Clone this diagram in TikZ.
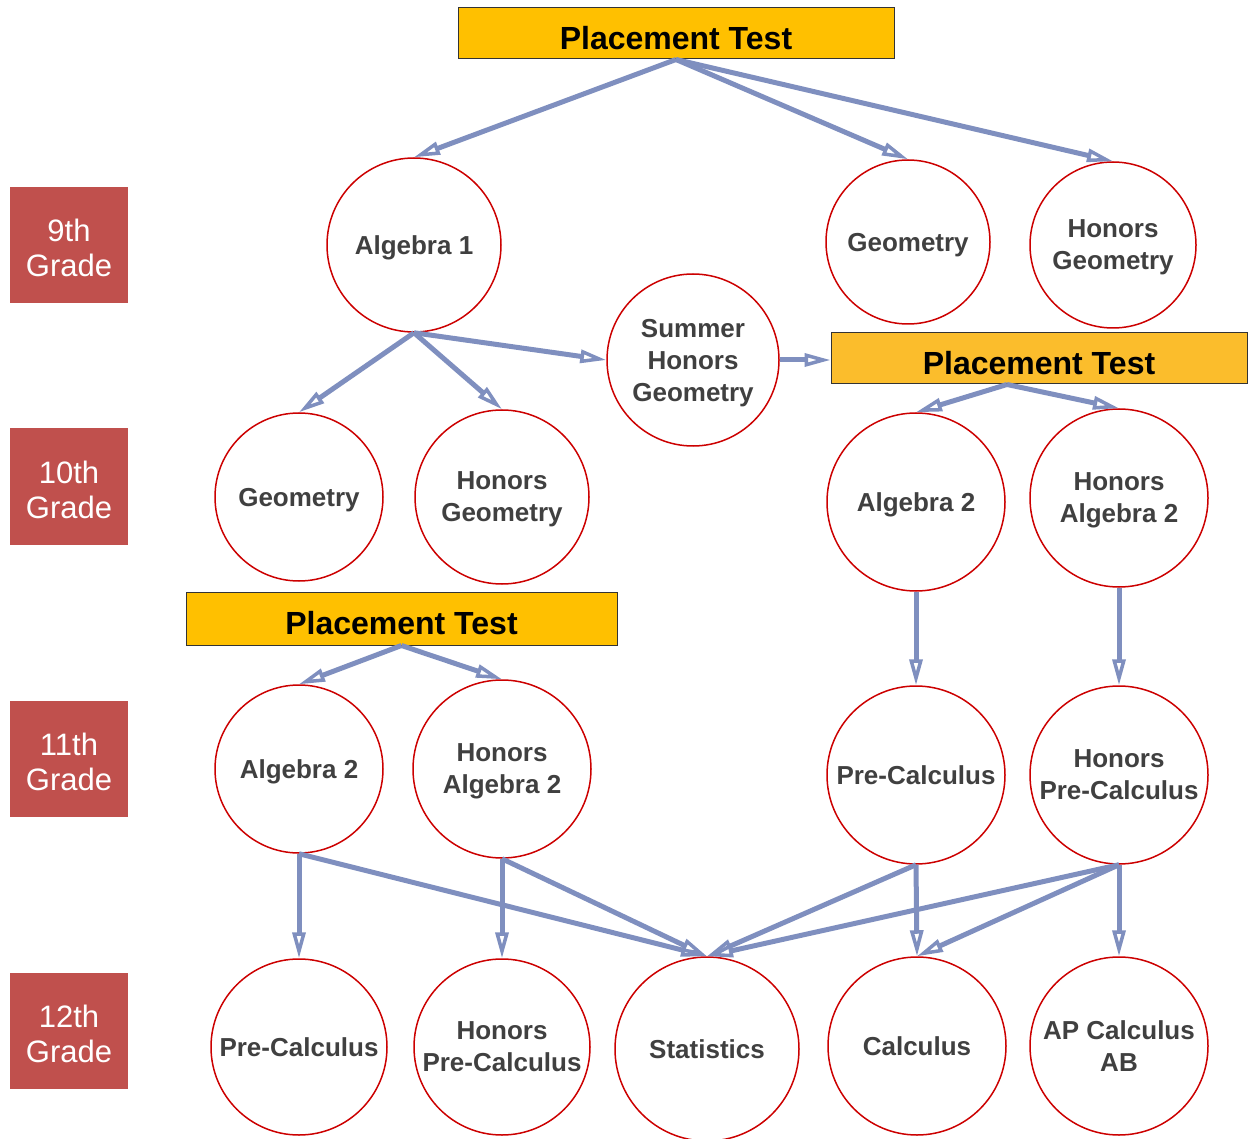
\documentclass[tikz,border=0pt]{standalone}
\usepackage{fontspec}
\setmainfont{Liberation Sans}
\usetikzlibrary{arrows.meta}
\definecolor{testgold}{HTML}{FFC000}
\definecolor{testgoldlight}{HTML}{FBBD2C}
\definecolor{gradered}{HTML}{C0504D}
\definecolor{linkblue}{HTML}{7F8FBF}
\definecolor{ringred}{HTML}{CC0000}
\definecolor{coursegrey}{HTML}{404040}
\begin{document}
\begin{tikzpicture}[x=1pt, y=-1pt,
  course/.style={circle, draw=ringred, line width=1.5pt, fill=white, inner sep=0pt,
    minimum size=#1, align=center, text=coursegrey, text depth=0pt,
    font=\fontsize{26}{32}\selectfont\bfseries},
  course/.default=176,
  test/.style={draw=black!80, line width=1pt, fill=testgold, inner sep=0pt,
    minimum height=51, text height=32pt, text depth=0pt,
    font=\fontsize{32}{36}\selectfont\bfseries},
  grade/.style={fill=gradered, inner sep=0pt, minimum width=118, minimum height=116,
    align=center, text=white, text height=63.5pt,
    font=\fontsize{31}{35}\selectfont},
  link/.style={draw=linkblue, line width=5pt,
    -{Triangle[open, fill=white, length=26pt, width=13pt, line width=3.5pt]}}]
  \useasboundingbox (0,0) rectangle (1248,1139);

  % grade labels
  \node[grade] (g9)  at (69,245)    {9th\\Grade};
  \node[grade] (g10) at (69,486.5)  {10th\\Grade};
  \node[grade] (g11) at (69,758.5)  {11th\\Grade};
  \node[grade] (g12) at (69,1030.5) {12th\\Grade};

  % placement tests
  \node[test, minimum width=436] (pt1) at (676,33.5) {Placement Test};
  \node[test, minimum width=416, fill=testgoldlight] (pt2) at (1039,358.5) {Placement Test};
  \node[test, minimum width=431, minimum height=53] (pt3) at (401.5,618.5) {Placement Test};
  \coordinate (pt2out) at (1007,384.5);

  % 9th grade
  \node[course=174] (alg1)  at (414,245) {Algebra 1};
  \node[course=164] (geo9)  at (908,242) {Geometry};
  \node[course=166] (hgeo9) at (1113,245) {Honors\\Geometry};
  \node[course=172] (shg)   at (693,360) {Summer\\Honors\\Geometry};

  % 10th grade
  \node[course=168] (geo10)  at (299,497)  {Geometry};
  \node[course=174] (hgeo10) at (502,497)  {Honors\\Geometry};
  \node[course=178] (alg2a)  at (916,502)  {Algebra 2};
  \node[course=178] (halg2a) at (1119,498) {Honors\\Algebra 2};

  % 11th grade
  \node[course=168] (alg2b)  at (299,769)  {Algebra 2};
  \node[course=178] (halg2b) at (502,769)  {Honors\\Algebra 2};
  \node[course=178] (preca)  at (916,775)  {Pre-Calculus};
  \node[course=178] (hpreca) at (1119,775) {Honors\\Pre-Calculus};

  % 12th grade
  \node[course=176] (precb)  at (299,1047)  {Pre-Calculus};
  \node[course=176] (hprecb) at (502,1047)  {Honors\\Pre-Calculus};
  \node[course=184] (stat)   at (707,1049)  {Statistics};
  \node[course=178] (calc)   at (917,1046)  {Calculus};
  \node[course=178] (apcalc) at (1119,1046) {AP Calculus\\AB};

  % links
  \draw[link] (pt1.south) -- (alg1.north);
  \draw[link] (pt1.south) -- (geo9.north);
  \draw[link] (pt1.south) -- (hgeo9.north);
  \draw[link] (alg1.south) -- (geo10.north);
  \draw[link] (alg1.south) -- (hgeo10.north);
  \draw[link] (alg1.south) -- (shg.west);
  \draw[link] (shg.east) -- (pt2.west |- shg.east);
  \draw[link] (pt2out) -- (alg2a.north);
  \draw[link] (pt2out) -- (halg2a.north);
  \draw[link] (alg2a.south) -- (preca.north);
  \draw[link] (halg2a.south) -- (hpreca.north);
  \draw[link] (pt3.south) -- (alg2b.north);
  \draw[link] (pt3.south) -- (halg2b.north);
  \draw[link] (alg2b.south) -- (precb.north);
  \draw[link] (alg2b.south) -- (stat.north);
  \draw[link] (halg2b.south) -- (hprecb.north);
  \draw[link] (halg2b.south) -- (stat.north);
  \draw[link] (preca.south) -- (stat.north);
  \draw[link] (preca.south) -- (calc.north);
  \draw[link] (hpreca.south) -- (stat.north);
  \draw[link] (hpreca.south) -- (calc.north);
  \draw[link] (hpreca.south) -- (apcalc.north);
\end{tikzpicture}
\end{document}
